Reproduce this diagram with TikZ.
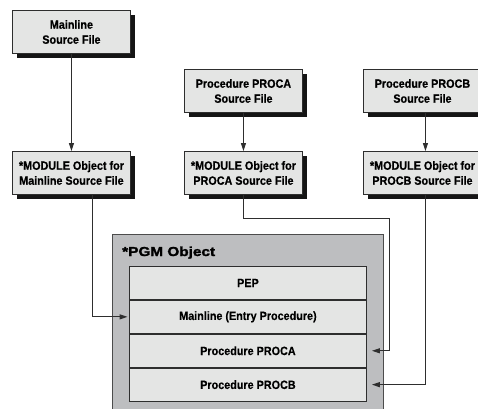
\documentclass[tikz,border=0pt]{standalone}
\usepackage{fontspec}
\setmainfont{Liberation Sans}
\newfontfamily\boxfont{Liberation Sans Bold}[FakeStretch=0.9,FakeBold=0.6]
\newfontfamily\rowfont{Liberation Sans Bold}[FakeStretch=0.9,FakeBold=0.3]
\newfontfamily\pgmfont{Liberation Sans Bold}[FakeStretch=1.18,FakeBold=1.8]
\usetikzlibrary{shadows,arrows.meta}
\definecolor{boxgray}{HTML}{E4E5E4}
\definecolor{pgmgray}{HTML}{BDBEC0}
\definecolor{linec}{HTML}{2E2E2E}
\definecolor{shadowc}{HTML}{151515}
\begin{document}
\begin{tikzpicture}[x=1pt,y=-1pt,
  srcbox/.style={draw=linec, line width=0.9pt, fill=boxgray, minimum width=118pt,
    minimum height=43pt, inner sep=0pt, align=center, anchor=north west,
    font=\boxfont\fontsize{12}{15}\selectfont,
    drop shadow={shadow xshift=4.5pt, shadow yshift=-4.5pt, fill=shadowc, opacity=1}},
  rowbox/.style={draw=linec, line width=0.9pt, fill=boxgray, minimum width=237pt,
    minimum height=33pt, inner sep=0pt, anchor=north west,
    font=\rowfont\fontsize{12}{14}\selectfont},
  pgmbox/.style={draw=black!70, line width=0.9pt, fill=pgmgray, anchor=north west,
    minimum width=271pt, minimum height=185pt, inner sep=0pt},
  conn/.style={draw=linec, line width=1pt},
  arr/.style={conn, -{Triangle[length=8pt,width=5pt]}}
]
\useasboundingbox (0,0) rectangle (478,408);
\clip (0,0) rectangle (478,408);

% source boxes
\node[srcbox] (b1) at (12,10) {Mainline\\Source File};
\node[srcbox] (b2) at (12,151) {*MODULE Object for\\Mainline Source File};
\node[srcbox] (b3) at (184,69) {Procedure PROCA\\Source File};
\node[srcbox] (b4) at (184,151) {*MODULE Object for\\PROCA Source File};
\node[srcbox, minimum width=124pt] (b5) at (363,69) {\hspace*{-6pt}Procedure PROCB\\\hspace*{-6pt}Source File};
\node[srcbox, minimum width=124pt] (b6) at (363,151) {\hspace*{-6pt}*MODULE Object for\\\hspace*{-6pt}PROCB Source File};

% PGM object
\node[pgmbox] (pgm) at (112,234) {};
\node[anchor=base west, inner sep=0pt, font=\pgmfont\fontsize{13}{15}\selectfont] (pgmt) at (122,256) {*PGM Object};
\node[rowbox] (pep) at (129,266) {PEP};
\node[rowbox] (main) at (pep.south west) {Mainline (Entry Procedure)};
\node[rowbox] (proca) at (main.south west) {Procedure PROCA};
\node[rowbox] (procb) at (proca.south west) {Procedure PROCB};

% connectors
\draw[arr] (b1.south) -- (b2.north);
\draw[arr] (b3.south) -- (b4.north);
\draw[arr] (b5.south) -- (b6.north);

\coordinate (m1) at ([xshift=21pt]b2.south);
\draw[arr, shorten >=1.5pt] (m1) |- (main.west);

\coordinate (ka) at (389,218);
\draw[arr] (b4.south) |- (ka) |- ([xshift=5pt]proca.east);

\draw[arr] (b6.south) |- ([xshift=5pt]procb.east);
\end{tikzpicture}
\end{document}
